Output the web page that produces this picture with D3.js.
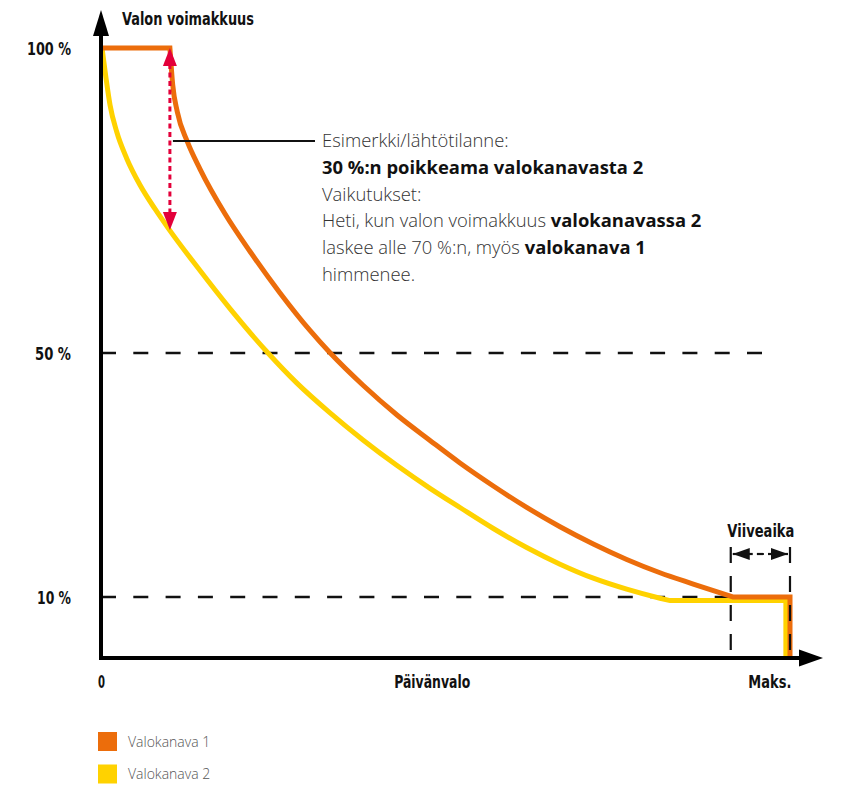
<!DOCTYPE html>
<html>
<head>
<meta charset="utf-8">
<script src="https://cdn.jsdelivr.net/npm/d3@7"></script>
<style>
  body { margin: 0; background: #fff; }
  .cond { font-family: "DejaVu Sans Condensed", "DejaVu Sans", sans-serif; font-weight: bold; }
  .light { font-family: "Open Sans", "Noto Sans", sans-serif; font-weight: 300; }
</style>
</head>
<body>
<div id="chart"></div>
<script>
// daylight (0..100 = 0..Maks.) vs light level %
const ch1X = [0, 10, 10.41, 11.07, 12.53, 14.37, 17.97, 21.63, 25.98, 30.33, 33.24, 38.07, 42.96, 47.75, 52.10, 56.94, 61.78, 66.62, 71.45, 76.30, 81.13, 85.96, 91.73];
const ch1Y = [100, 100, 93.93, 89.56, 84.64, 80.16, 72.87, 66.64, 59.85, 53.70, 50.03, 44.67, 39.84, 35.67, 31.97, 28.20, 24.69, 21.52, 18.69, 16.16, 13.98, 12.13, 10.0];
const ch1EndX = [91.73, 100, 100];
const ch1EndY = [10, 10, 0];

const ch2X = [0.15, 0.73, 1.31, 2.28, 3.73, 5.66, 7.84, 9.77, 14.37, 18.72, 24.24, 28.40, 33.24, 38.07, 42.92, 47.75, 52.10, 56.94, 61.78, 66.62, 71.45, 76.30, 81.13, 82.58];
const ch2Y = [100, 95.03, 90.66, 86.26, 81.90, 77.54, 73.61, 70.44, 63.52, 57.28, 50.0, 45.10, 40.18, 35.70, 31.59, 27.82, 24.67, 21.23, 18.11, 15.38, 13.08, 11.28, 9.80, 9.41];
const ch2EndX = [82.58, 99.4, 99.4];
const ch2EndY = [9.41, 9.41, 0];

const yTicks = [10, 50, 100];
const yTickLabels = ["10 %", "50 %", "100 %"];
const gridEnds = [91.4, 96.4];          // x where the dashed 10 % and 50 % lines stop
const xTicks = [0, 48, 97];
const xTickLabels = ["0", "Päivänvalo", "Maks."];
const delay = [91.4, 100];               // Viiveaika
const deviation = [10, 100, 70];         // x, from %, to %

const legendNames = ["Valokanava 1", "Valokanava 2"];
const colors = ["#ec6d0b", "#ffd200"];

const noteLines = [
  [["Esimerkki/lähtötilanne:", false]],
  [["30 %:n poikkeama valokanavasta 2", true]],
  [["Vaikutukset:", false]],
  [["Heti, kun valon voimakkuus ", false], ["valokanavassa 2", true]],
  [["laskee alle 70 %:n, myös ", false], ["valokanava 1", true]],
  [["himmenee.", false]]
];

// widths of the condensed labels in the original
const labelWidth = {
  "Valon voimakkuus": 132, "100 %": 44, "50 %": 36, "10 %": 34,
  "0": 7, "Päivänvalo": 76, "Maks.": 43, "Viiveaika": 67
};

const width = 842, height = 790;
const svg = d3.select("#chart").append("svg")
  .attr("width", width).attr("height", height);

const x = d3.scaleLinear().domain([0, 100]).range([101, 790]);
const y = d3.scaleLinear().domain([0, 100]).range([658, 48]);

function condense(sel) {
  sel.attr("class", "cond").attr("font-size", 18).attr("fill", "#111")
    .attr("textLength", function() { return labelWidth[this.textContent]; })
    .attr("lengthAdjust", "spacingAndGlyphs");
}

// dashed reference lines
svg.append("g").selectAll("line")
  .data([10, 50])
  .join("line")
  .attr("x1", x(0)).attr("x2", (d, i) => x(gridEnds[i]))
  .attr("y1", d => y(d)).attr("y2", d => y(d))
  .attr("stroke", "#111").attr("stroke-width", 2.6)
  .attr("stroke-dasharray", "15 17.3");

const lin = d3.line().x(d => x(d[0])).y(d => y(d[1]));
const smooth = d3.line().x(d => x(d[0])).y(d => y(d[1])).curve(d3.curveMonotoneX);

function channelPath(cx, cy, ex, ey, flatPts) {
  const pts = d3.zip(cx, cy);
  let p = "";
  if (flatPts) {
    p = lin(pts.slice(0, flatPts)) + smooth(pts.slice(flatPts - 1)).replace(/^M/, "L");
  } else {
    p = smooth(pts);
  }
  return p + lin(d3.zip(ex, ey)).replace(/^M/, "L");
}

svg.append("path")
  .attr("d", channelPath(ch2X, ch2Y, ch2EndX, ch2EndY, 0))
  .attr("fill", "none").attr("stroke", colors[1]).attr("stroke-width", 5);

svg.append("path")
  .attr("d", channelPath(ch1X, ch1Y, ch1EndX, ch1EndY, 2))
  .attr("fill", "none").attr("stroke", colors[0]).attr("stroke-width", 5);

// deviation arrow
const red = "#e3003a";
const ax = x(deviation[0]);
svg.append("line")
  .attr("x1", ax).attr("x2", ax)
  .attr("y1", y(deviation[1]) + 16).attr("y2", y(deviation[2]) - 16)
  .attr("stroke", red).attr("stroke-width", 3)
  .attr("stroke-dasharray", "5 3.5");
svg.append("path")
  .attr("d", `M${ax},${y(deviation[1])}L${ax - 7},${y(deviation[1]) + 18}L${ax + 7},${y(deviation[1]) + 18}Z`)
  .attr("fill", red);
svg.append("path")
  .attr("d", `M${ax},${y(deviation[2]) - 1}L${ax - 7},${y(deviation[2]) - 19}L${ax + 7},${y(deviation[2]) - 19}Z`)
  .attr("fill", red);

// annotation
svg.append("line")
  .attr("x1", ax + 3).attr("x2", 315)
  .attr("y1", 141).attr("y2", 141)
  .attr("stroke", "#111").attr("stroke-width", 2.2);

const note = svg.append("g").attr("class", "light")
  .attr("font-size", 18.4).attr("fill", "#333");
noteLines.forEach((parts, i) => {
  const t = note.append("text").attr("x", 322).attr("y", 147 + i * 26.8);
  parts.forEach(([s, b]) => {
    t.append("tspan").text(s)
      .attr("font-weight", b ? 700 : 300)
      .attr("fill", b ? "#111" : "#333");
  });
});

// delay marker
svg.append("g").selectAll("line")
  .data(delay)
  .join("line")
  .attr("x1", d => x(d)).attr("x2", d => x(d))
  .attr("y1", 547).attr("y2", y(0))
  .attr("stroke", "#111").attr("stroke-width", 2.2)
  .attr("stroke-dasharray", "16 13");
const ay = 554;
const dl = x(delay[0]) + 2, dr = x(delay[1]) - 2;
const mid = (dl + dr) / 2;
svg.append("line")
  .attr("x1", mid - 3.5).attr("x2", mid + 3.5)
  .attr("y1", ay).attr("y2", ay)
  .attr("stroke", "#111").attr("stroke-width", 2.2);
svg.append("line").attr("x1", dl).attr("x2", dl + 20).attr("y1", ay).attr("y2", ay)
  .attr("stroke", "#111").attr("stroke-width", 2.2);
svg.append("line").attr("x1", dr - 20).attr("x2", dr).attr("y1", ay).attr("y2", ay)
  .attr("stroke", "#111").attr("stroke-width", 2.2);
svg.append("path").attr("d", `M${dl},${ay}L${dl + 17},${ay - 6}L${dl + 17},${ay + 6}Z`).attr("fill", "#111");
svg.append("path").attr("d", `M${dr},${ay}L${dr - 17},${ay - 6}L${dr - 17},${ay + 6}Z`).attr("fill", "#111");
svg.append("text")
  .attr("x", (x(delay[0]) + x(delay[1])) / 2 + 0.5).attr("y", 537)
  .attr("text-anchor", "middle")
  .text("Viiveaika")
  .call(condense);

// axes
svg.append("line")
  .attr("x1", x(0)).attr("x2", x(0)).attr("y1", y(0) + 2).attr("y2", 30)
  .attr("stroke", "#000").attr("stroke-width", 4);
svg.append("path").attr("d", `M${x(0)},10L${x(0) - 8},36L${x(0) + 8},36Z`).attr("fill", "#000");
svg.append("line")
  .attr("x1", x(0) - 2).attr("x2", 805).attr("y1", y(0)).attr("y2", y(0))
  .attr("stroke", "#000").attr("stroke-width", 4);
svg.append("path").attr("d", `M823,${y(0)}L799,${y(0) - 8.5}L799,${y(0) + 8.5}Z`).attr("fill", "#000");

const yAxis = svg.append("g")
  .attr("transform", `translate(${x(0) - 27},0)`)
  .call(d3.axisLeft(y).tickValues(yTicks).tickSize(0)
    .tickFormat((d, i) => yTickLabels[i]));
yAxis.select(".domain").remove();
yAxis.selectAll("text").attr("dy", "0.36em").call(condense);

const xAxis = svg.append("g")
  .attr("transform", `translate(0,${y(0) + 14})`)
  .call(d3.axisBottom(x).tickValues(xTicks).tickSize(0)
    .tickFormat((d, i) => xTickLabels[i]));
xAxis.select(".domain").remove();
xAxis.selectAll("text").attr("dy", "0.71em").call(condense);

svg.append("text")
  .attr("x", 122).attr("y", 25)
  .text("Valon voimakkuus")
  .call(condense);

// legend
const legend = svg.append("g").attr("transform", "translate(98,732)");
legendNames.forEach((name, i) => {
  const g = legend.append("g").attr("transform", `translate(0,${i * 32.5})`);
  g.append("rect").attr("width", 19).attr("height", 19).attr("fill", colors[i]);
  g.append("text").attr("class", "light").attr("x", 30).attr("y", 14.5)
    .attr("font-size", 14).attr("fill", "#555").text(name);
});
</script>
</body>
</html>
